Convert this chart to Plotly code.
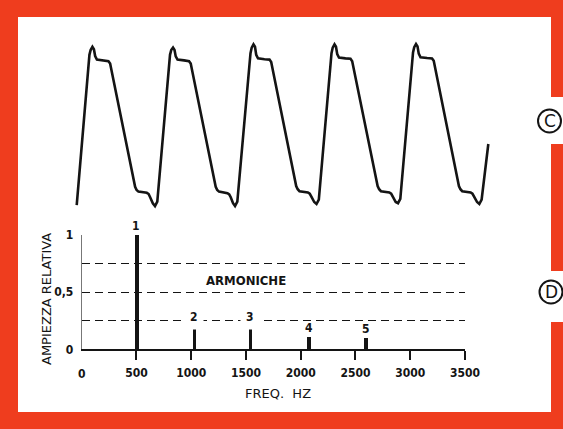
import plotly.graph_objects as go

# ---------------- DATA ----------------
# Waveform (C): time in ms, relative amplitude
wave_t = [0.000,
          0.314, 0.344, 0.388, 0.425, 0.455, 0.499, 0.660, 0.783, 0.825,
          1.442, 1.479, 1.524, 1.731, 1.776, 1.813, 1.879, 1.933, 1.990,
          2.304, 2.334, 2.378, 2.415, 2.445, 2.489, 2.650, 2.773, 2.815,
          3.432, 3.469, 3.514, 3.721, 3.766, 3.803, 3.860, 3.909, 3.966,
          4.291, 4.321, 4.365, 4.402, 4.432, 4.476, 4.637, 4.760, 4.802,
          5.419, 5.456, 5.501, 5.708, 5.753, 5.790, 5.865, 5.921, 5.978,
          6.291, 6.321, 6.365, 6.402, 6.432, 6.476, 6.637, 6.760, 6.802,
          7.430, 7.467, 7.512, 7.719, 7.764, 7.801, 7.877, 7.933, 7.990,
          8.304, 8.334, 8.378, 8.415, 8.445, 8.489, 8.650, 8.773, 8.815,
          9.437, 9.474, 9.519, 9.726, 9.771, 9.808, 9.885, 9.941, 9.998,
          10.163]
wave_v = [-0.99,
          0.89, 0.95, 0.99, 0.96, 0.875, 0.83, 0.82, 0.81, 0.78,
          -0.76, -0.80, -0.82, -0.835, -0.85, -0.89, -0.965, -1.00, -0.945,
          0.89, 0.95, 0.98, 0.95, 0.87, 0.83, 0.82, 0.81, 0.78,
          -0.76, -0.80, -0.82, -0.84, -0.855, -0.89, -0.965, -1.00, -0.945,
          0.91, 0.98, 1.02, 0.99, 0.89, 0.845, 0.835, 0.83, 0.80,
          -0.75, -0.79, -0.815, -0.83, -0.845, -0.88, -0.95, -0.975, -0.92,
          0.91, 0.98, 1.02, 0.99, 0.90, 0.855, 0.845, 0.84, 0.81,
          -0.75, -0.79, -0.815, -0.83, -0.845, -0.88, -0.95, -0.965, -0.91,
          0.92, 0.985, 1.025, 0.995, 0.905, 0.86, 0.85, 0.845, 0.815,
          -0.75, -0.79, -0.815, -0.83, -0.845, -0.88, -0.95, -0.975, -0.92,
          -0.225]

# Spectrum (D)
harm_labels = ["1", "2", "3", "4", "5"]
harm_freq = [500, 1025, 1540, 2075, 2595]
harm_amp = [1.0, 0.19, 0.19, 0.11, 0.095]

freq_tickvals = [500, 1000, 1500, 2000, 2500, 3000, 3500]
freq_ticktext = ["500", "1000", "1500", "2000", "2500", "3000", "3500"]
amp_tickvals = [0, 0.25, 0.5, 0.75, 1]
amp_ticktext = ["0", "", "0,5", "", "1"]

# ---------------- LAYOUT HELPERS ----------------
W, H = 563, 429
RED = "#EF3D1E"
INK = "#141414"
FONT = "DejaVu Sans Condensed, DejaVu Sans, sans-serif"
WIDE = "DejaVu Sans, sans-serif"
NUMFONT = dict(family=FONT, size=12, color=INK, weight="bold")
# labels whose box interrupts the dashed 0.25 gridline (as in the original)
label_mask = [False, True, True, False, False]


def px(x):
    return x / W


def py(y):
    return 1 - y / H


fig = go.Figure()

fig.add_trace(go.Scatter(
    x=wave_t, y=wave_v, mode="lines",
    line=dict(color=INK, width=2.6, shape="linear"),
    xaxis="x", yaxis="y", hoverinfo="skip", showlegend=False))

fig.add_trace(go.Bar(
    x=harm_freq, y=harm_amp, width=32, marker=dict(color=INK, line=dict(width=0)),
    xaxis="x2", yaxis="y2", showlegend=False, hoverinfo="skip"))

annotations = []
for lab, f, a, m in zip(harm_labels, harm_freq, harm_amp, label_mask):
    annotations.append(dict(
        x=f, y=a, xref="x2", yref="y2", text=lab, showarrow=False,
        xanchor="center", yanchor="bottom",
        yshift=-2 if m else 1,
        bgcolor="white" if m else "rgba(0,0,0,0)",
        borderpad=5 if m else 0,
        font=NUMFONT))


def txt(x, y, text, font, angle=0):
    return dict(x=px(x), y=py(y), xref="paper", yref="paper", text=text,
                showarrow=False, xanchor="center", yanchor="middle",
                textangle=angle, font=font)


annotations += [
    dict(x=0, y=0, xref="x2", yref="y2", text="0", showarrow=False,
         xanchor="center", yanchor="top", yshift=-16, font=NUMFONT),
    txt(246, 280, "ARMONICHE", dict(family=FONT, size=13, color=INK, weight="bold")),
    txt(46, 299, "AMPIEZZA RELATIVA", dict(family=WIDE, size=13, color=INK), -90),
    txt(278, 393, "FREQ.  HZ", dict(family=WIDE, size=13, color=INK)),
    txt(549.5, 121, "C", dict(family=WIDE, size=17, color=INK)),
    txt(551, 292, "D", dict(family=WIDE, size=17, color=INK)),
]

shapes = []
# red frame
for (x0, y0, x1, y1) in [(0, 0, W, 17), (0, 0, 18, H), (0, 412, W, H),
                         (551, 0, W, 97), (551, 144, W, 271), (551, 322, W, H)]:
    shapes.append(dict(type="rect", xref="paper", yref="paper",
                       x0=px(x0), x1=px(x1), y0=py(y1), y1=py(y0),
                       fillcolor=RED, line=dict(width=0), layer="above"))
for (cx, cy) in [(549.5, 121), (551, 292)]:
    r = 11.5
    shapes.append(dict(type="circle", xref="paper", yref="paper",
                       x0=px(cx - r), x1=px(cx + r), y0=py(cy + r), y1=py(cy - r),
                       fillcolor="white", line=dict(color=INK, width=2), layer="above"))

fig.update_layout(
    width=W, height=H, autosize=False, margin=dict(l=0, r=0, t=0, b=0, pad=0),
    paper_bgcolor="white", plot_bgcolor="rgba(0,0,0,0)",
    showlegend=False, bargap=0,
    annotations=annotations, shapes=shapes,
    xaxis=dict(domain=[0, 1], range=[-1.894, 12.007], visible=False, fixedrange=True,
               automargin=False),
    yaxis=dict(domain=[0.5, 1], range=[-1.106, 1.575], visible=False, fixedrange=True,
               automargin=False),
    xaxis2=dict(domain=[px(81.7), px(465)], range=[0, 3500], anchor="y2",
                tickvals=freq_tickvals, ticktext=freq_ticktext,
                ticks="outside", ticklen=9, tickwidth=2, tickcolor=INK,
                showline=True, linecolor=INK, linewidth=2, showgrid=False,
                zeroline=False, tickfont=NUMFONT, ticklabelstandoff=2,
                automargin=False, fixedrange=True),
    yaxis2=dict(domain=[py(349.3), py(235)], range=[0, 1], anchor="x2",
                tickvals=amp_tickvals, ticktext=amp_ticktext, ticks="",
                showline=True, linecolor="#777777", linewidth=1,
                showgrid=True, gridcolor=INK, gridwidth=1.4, griddash="8px,5px",
                zeroline=False, tickfont=NUMFONT, ticklabelstandoff=5,
                automargin=False, fixedrange=True),
)

fig.write_html(
    "out.html",
    config={"displayModeBar": False},
    post_script="document.body.style.margin='0';document.body.style.padding='0';"
                "document.body.style.overflow='hidden';",
)
